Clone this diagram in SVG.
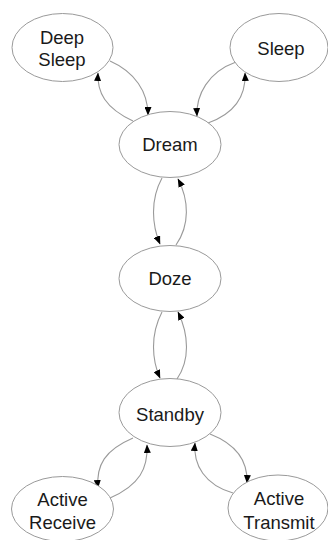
<svg xmlns="http://www.w3.org/2000/svg" width="328" height="540" viewBox="0 0 328 540">
<defs>
<marker id="ah" markerWidth="9" markerHeight="7" refX="8" refY="3.5" orient="auto" markerUnits="userSpaceOnUse">
<path d="M0,0 L8.5,3.5 L0,7 z" fill="#000"/>
</marker>
</defs>
<style>
.n ellipse{fill:#fff;stroke:#9a9a9a;stroke-width:1}
.n text{font-family:"Liberation Sans",Arial,sans-serif;font-size:18.5px;fill:#1a1a1a;text-anchor:middle}
#edges path{fill:none;stroke:#9a9a9a;stroke-width:1.1;marker-end:url(#ah)}
</style>
<rect width="328" height="540" fill="#fff"/>
<g id="edges">
<path d="M110,61 C135,72 148,92 148,115"/>
<path d="M133,121 C105,108 97,92 98,73"/>
<path d="M236,62 C208,72 196,95 197,116"/>
<path d="M208,123 C236,113 246,95 245,73"/>
<path d="M162,178 C150,200 152,225 160,244"/>
<path d="M176,245 C190,225 189,200 178,179"/>
<path d="M162,312 C150,335 152,360 160,378"/>
<path d="M177,379 C190,360 189,335 178,312"/>
<path d="M133,438 C105,450 96,465 98,488"/>
<path d="M110,498 C140,485 148,468 147,445"/>
<path d="M210,434 C238,445 248,462 247,483"/>
<path d="M233,493 C205,485 193,465 195,443"/>
</g>
<g id="deep-sleep" class="n"><ellipse cx="62.5" cy="47.5" rx="50.5" ry="34"/><text x="62" y="43.5">Deep</text><text x="62" y="66">Sleep</text></g>
<g id="sleep" class="n"><ellipse cx="279" cy="47.5" rx="49" ry="34"/><text x="281" y="55">Sleep</text></g>
<g id="dream" class="n"><ellipse cx="170" cy="144.5" rx="51" ry="33"/><text x="170" y="151">Dream</text></g>
<g id="doze" class="n"><ellipse cx="170" cy="278.5" rx="51" ry="33"/><text x="170" y="284.5">Doze</text></g>
<g id="standby" class="n"><ellipse cx="170" cy="412.5" rx="51" ry="34"/><text x="170" y="420.5">Standby</text></g>
<g id="active-receive" class="n"><ellipse cx="62.5" cy="509" rx="51" ry="32.5"/><text x="62.5" y="506">Active</text><text x="62.5" y="528.5">Receive</text></g>
<g id="active-transmit" class="n"><ellipse cx="278" cy="508" rx="50" ry="33"/><text x="279" y="505">Active</text><text x="279" y="528.5">Transmit</text></g>
</svg>
